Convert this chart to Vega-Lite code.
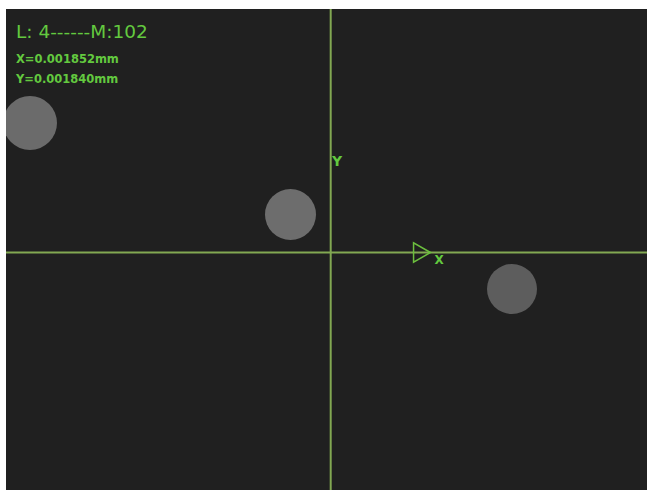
{
  "$schema": "https://vega.github.io/schema/vega-lite/v6.json",
  "width": 641,
  "height": 481,
  "autosize": {"type": "none"},
  "padding": {"left": 6, "top": 9, "right": 0, "bottom": 0},
  "background": "#ffffff",
  "datasets": {
    "blobs": [
      {"blob": "A", "x": 30, "y": 123, "d": 54},
      {"blob": "B", "x": 290.5, "y": 214.5, "d": 51},
      {"blob": "C", "x": 512, "y": 289, "d": 50}
    ],
    "cross": [{"cx": 330.7, "cy": 252.5}],
    "arrow": [{"x": 422, "y": 252.5}],
    "axisLabels": [
      {"label": "Y", "x": 337, "y": 166, "size": 14},
      {"label": "X", "x": 439, "y": 264, "size": 12}
    ],
    "title": [{"text": "L: 4------M:102", "x": 16, "y": 37.5}],
    "readout": [
      {"text": "X=0.001852mm", "x": 16, "y": 62.5},
      {"text": "Y=0.001840mm", "x": 16, "y": 82.5}
    ]
  },
  "encoding": {
    "x": {"type": "quantitative", "scale": {"domain": [6, 647], "nice": false, "zero": false}, "axis": null},
    "y": {"type": "quantitative", "scale": {"domain": [9, 490], "nice": false, "zero": false, "reverse": true}, "axis": null}
  },
  "layer": [
    {
      "data": {"name": "blobs"},
      "mark": {"type": "point", "shape": "circle", "filled": true, "opacity": 1, "strokeWidth": 0, "clip": true},
      "encoding": {
        "x": {"field": "x", "type": "quantitative"},
        "y": {"field": "y", "type": "quantitative"},
        "size": {"field": "d", "type": "quantitative", "scale": {"type": "pow", "exponent": 2, "domain": [0, 60], "range": [0, 3600]}, "legend": null},
        "color": {"field": "blob", "type": "nominal", "scale": {"range": ["#6b6b6b", "#6d6d6d", "#5d5d5d"]}, "legend": null}
      }
    },
    {
      "data": {"name": "cross"},
      "mark": {"type": "rule", "color": "#82a852", "strokeWidth": 2},
      "encoding": {"x": {"field": "cx", "type": "quantitative"}}
    },
    {
      "data": {"name": "cross"},
      "mark": {"type": "rule", "color": "#82a852", "strokeWidth": 2},
      "encoding": {"y": {"field": "cy", "type": "quantitative"}}
    },
    {
      "data": {"name": "arrow"},
      "mark": {"type": "point", "shape": "triangle-right", "filled": false, "stroke": "#6cbf3e", "strokeWidth": 1.5, "size": 380, "opacity": 1},
      "encoding": {
        "x": {"field": "x", "type": "quantitative"},
        "y": {"field": "y", "type": "quantitative"}
      }
    },
    {
      "data": {"name": "axisLabels"},
      "mark": {"type": "text", "font": "DejaVu Sans", "fontWeight": "bold", "color": "#63c93f", "align": "center", "baseline": "alphabetic"},
      "encoding": {
        "x": {"field": "x", "type": "quantitative"},
        "y": {"field": "y", "type": "quantitative"},
        "text": {"field": "label"},
        "size": {"field": "size", "type": "quantitative", "scale": null}
      }
    },
    {
      "data": {"name": "title"},
      "mark": {"type": "text", "font": "DejaVu Sans", "fontSize": 18.5, "color": "#63c93f", "align": "left", "baseline": "alphabetic"},
      "encoding": {
        "x": {"field": "x", "type": "quantitative"},
        "y": {"field": "y", "type": "quantitative"},
        "text": {"field": "text"}
      }
    },
    {
      "data": {"name": "readout"},
      "mark": {"type": "text", "font": "DejaVu Sans", "fontWeight": "bold", "fontSize": 11.5, "color": "#63c93f", "align": "left", "baseline": "alphabetic"},
      "encoding": {
        "x": {"field": "x", "type": "quantitative"},
        "y": {"field": "y", "type": "quantitative"},
        "text": {"field": "text"}
      }
    }
  ],
  "config": {"view": {"fill": "#202020", "stroke": null}}
}
